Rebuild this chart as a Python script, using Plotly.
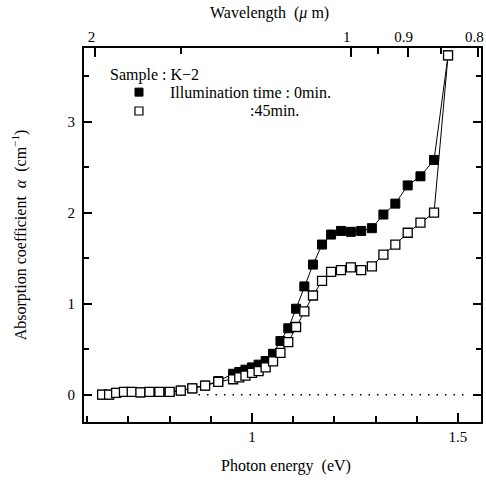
import plotly.graph_objects as go

# Photon energy (eV) of each measured point
energy = [0.636, 0.653, 0.670, 0.689, 0.708, 0.729, 0.751, 0.775, 0.800, 0.827,
          0.855, 0.886, 0.918, 0.954, 0.969, 0.984, 1.000, 1.016, 1.033, 1.051,
          1.069, 1.088, 1.107, 1.127, 1.148, 1.170, 1.192, 1.216, 1.240, 1.265,
          1.291, 1.319, 1.348, 1.378, 1.409, 1.442, 1.476]

# Illumination time 0 min (filled squares)
alpha_0min = [0.00, 0.00, 0.02, 0.03, 0.03, 0.025, 0.03, 0.03, 0.03, 0.045,
              0.07, 0.10, 0.15, 0.23, 0.25, 0.275, 0.30, 0.33, 0.37, 0.45,
              0.59, 0.73, 0.945, 1.19, 1.43, 1.65, 1.76, 1.80, 1.79, 1.80,
              1.83, 1.98, 2.10, 2.30, 2.40, 2.58, 3.73]

# Illumination time 45 min (open squares)
alpha_45min = [0.00, 0.00, 0.02, 0.03, 0.03, 0.025, 0.03, 0.03, 0.03, 0.045,
               0.07, 0.10, 0.14, 0.17, 0.19, 0.21, 0.24, 0.26, 0.30, 0.366,
               0.46, 0.578, 0.744, 0.915, 1.09, 1.25, 1.35, 1.37, 1.40, 1.37,
               1.41, 1.54, 1.65, 1.78, 1.89, 2.00, 3.73]

# dotted zero baseline
baseline_energy = [0.87, 1.53]
baseline_alpha = [0, 0]

# axis ticks
energy_major_ticks = [1, 1.5]
energy_major_labels = ["1", "1.5"]
alpha_major_ticks = [0, 1, 2, 3]
wl_major = [2, 1, 0.9, 0.8]
wl_major_labels = ["2", "1", "0.9", "0.8"]
wl_minor = [1.5, 0.95, 0.85]
HC = 1.2398  # eV*um

SERIF = "Liberation Serif, Times New Roman, serif"

fig = go.Figure()

fig.add_trace(go.Scatter(x=baseline_energy, y=baseline_alpha, mode="lines",
                         line=dict(color="black", width=1.6, dash="1.5px,7px"),
                         showlegend=False, hoverinfo="skip"))

fig.add_trace(go.Scatter(x=energy, y=alpha_0min, mode="lines+markers",
                         line=dict(color="black", width=1),
                         marker=dict(symbol="square", size=9, color="black",
                                     line=dict(color="black", width=1)),
                         showlegend=False))

fig.add_trace(go.Scatter(x=energy, y=alpha_45min, mode="lines+markers",
                         line=dict(color="black", width=1),
                         marker=dict(symbol="square", size=9, color="white",
                                     line=dict(color="black", width=1.3)),
                         showlegend=False))

# invisible helper trace to anchor the top wavelength axis
fig.add_trace(go.Scatter(x=energy, y=alpha_45min, xaxis="x2", mode="markers",
                         marker=dict(opacity=0), showlegend=False, hoverinfo="skip"))

xrange = [0.592, 1.556]

fig.update_layout(
    width=486, height=484,
    margin=dict(l=84, r=5, t=48, b=62),
    paper_bgcolor="white", plot_bgcolor="white",
    font=dict(family=SERIF, size=15, color="black"),
    xaxis=dict(range=xrange, showgrid=False, zeroline=False,
               showline=True, linecolor="black", linewidth=2, mirror=True,
               ticks="inside", tickvals=energy_major_ticks, ticktext=energy_major_labels,
               ticklen=9, tickwidth=2, tickcolor="black",
               minor=dict(dtick=0.1, tick0=0, ticks="inside", ticklen=6,
                          tickwidth=2, tickcolor="black", showgrid=False),
               tickfont=dict(size=15), fixedrange=True, automargin=False),
    xaxis2=dict(range=xrange, overlaying="x", side="top", anchor="y",
                showgrid=False, zeroline=False, showline=False,
                ticks="inside", tickvals=[HC / w for w in wl_major],
                ticktext=wl_major_labels, ticklen=9, tickwidth=2, tickcolor="black",
                ticklabelshift=-4, ticklabelstandoff=2,
                minor=dict(tickvals=[HC / w for w in wl_minor], ticks="inside",
                           ticklen=6, tickwidth=2, tickcolor="black", showgrid=False),
                tickfont=dict(size=15), fixedrange=True, automargin=False),
    yaxis=dict(range=[-0.30, 3.81], showgrid=False, zeroline=False,
               showline=True, linecolor="black", linewidth=2, mirror="ticks",
               ticks="inside", tickvals=alpha_major_ticks, ticklen=8, tickwidth=2,
               tickcolor="black",
               minor=dict(dtick=0.5, tick0=0, ticks="inside", ticklen=5,
                          tickwidth=2, tickcolor="black", showgrid=False),
               ticklabelstandoff=4, tickfont=dict(size=15), fixedrange=True,
               automargin=False),
)

annotations = [
    dict(text="Photon energy  (eV)", x=0.51, y=-0.118, xref="paper", yref="paper",
         xanchor="center", yanchor="middle", showarrow=False, font=dict(size=16)),
    dict(text="Wavelength  (<i>μ</i> m)", x=0.4685, y=1.094, xref="paper", yref="paper",
         xanchor="center", yanchor="middle", showarrow=False, font=dict(size=16)),
    dict(text="Absorption coefficient  <i>α</i>  (cm<sup>−1</sup>)", x=-0.163, y=0.5,
         xref="paper", yref="paper", xanchor="center", yanchor="middle",
         textangle=-90, showarrow=False, font=dict(size=16)),
    dict(text="Sample : K−2", x=0.0605, y=0.928, xref="paper", yref="paper",
         xanchor="left", yanchor="middle", showarrow=False, font=dict(size=16)),
    dict(text="Illumination time : 0min.", x=0.2116, y=0.880, xref="paper", yref="paper",
         xanchor="left", yanchor="middle", showarrow=False, font=dict(size=16)),
    dict(text=":45min.", x=0.413, y=0.8316, xref="paper", yref="paper",
         xanchor="left", yanchor="middle", showarrow=False, font=dict(size=16)),
]
fig.update_layout(annotations=annotations)

# legend keys
fig.add_shape(type="rect", xref="paper", yref="paper", xsizemode="pixel", ysizemode="pixel",
              xanchor=0.1385, yanchor=0.882, x0=-4, x1=4, y0=-4, y1=4,
              fillcolor="black", line=dict(color="black", width=1))
fig.add_shape(type="rect", xref="paper", yref="paper", xsizemode="pixel", ysizemode="pixel",
              xanchor=0.1385, yanchor=0.8316, x0=-4, x1=4, y0=-4, y1=4,
              fillcolor="white", line=dict(color="black", width=1.2))

fig.write_html("out.html", config={"displayModeBar": False},
               post_script="document.body.style.margin='0';document.body.style.overflow='hidden';")
